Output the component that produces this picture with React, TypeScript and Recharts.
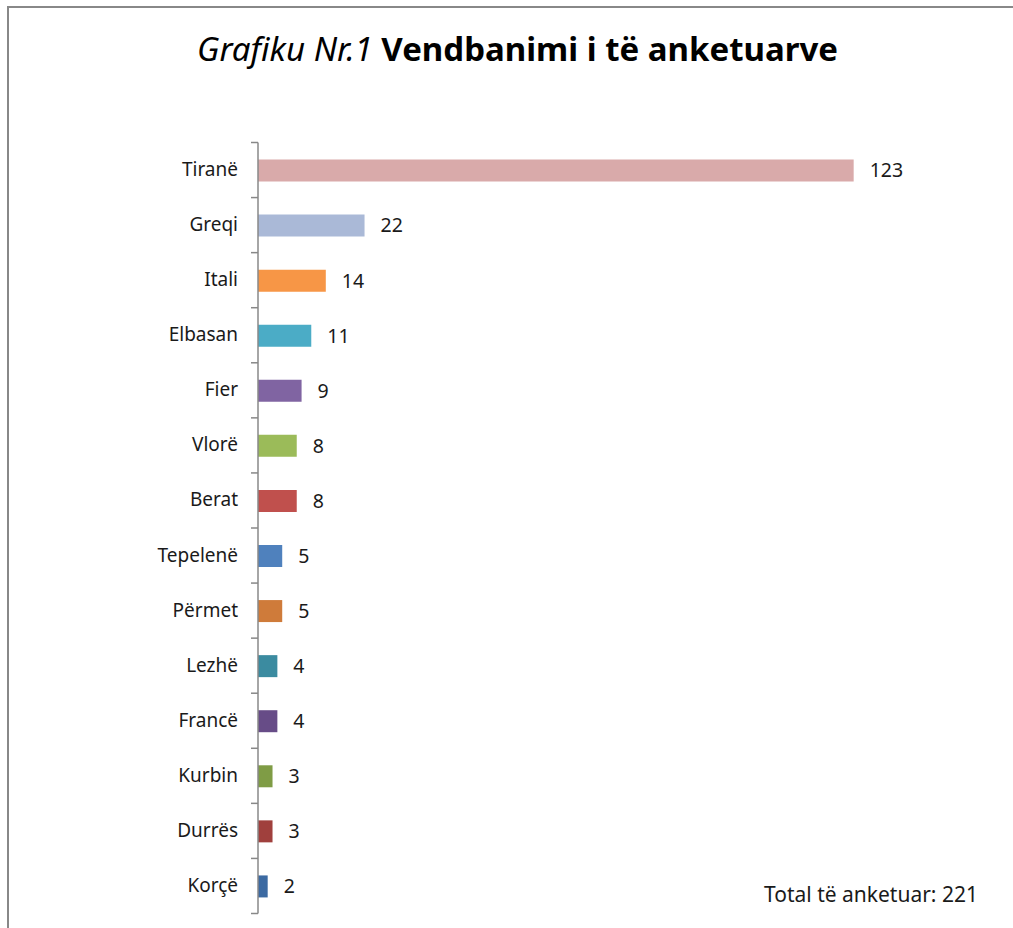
import { BarChart, Bar, XAxis, YAxis, Cell, LabelList } from 'recharts';

const places = [
  'Tiranë', 'Greqi', 'Itali', 'Elbasan', 'Fier', 'Vlorë', 'Berat',
  'Tepelenë', 'Përmet', 'Lezhë', 'Francë', 'Kurbin', 'Durrës', 'Korçë',
];
const counts = [123, 22, 14, 11, 9, 8, 8, 5, 5, 4, 4, 3, 3, 2];
const total = 221;

const barColors = [
  '#d9aaaa', '#aab9d7', '#f79646', '#4bacc6', '#8064a2', '#9bbb59', '#c0504d',
  '#4f81bd', '#cf7b3a', '#3b8ba0', '#674c87', '#7f9c45', '#a0403d', '#3c6aa2',
];

const FONT = '"Noto Sans", "Open Sans", sans-serif';
const BAND = 771 / places.length;

function PlaceTick(props: any) {
  const { x, y, payload, index } = props;
  return (
    <g>
      <line x1={x - 7} x2={x} y1={y - BAND / 2} y2={y - BAND / 2} stroke="#888" strokeWidth={1.5} />
      {index === places.length - 1 && (
        <line x1={x - 7} x2={x} y1={y + BAND / 2} y2={y + BAND / 2} stroke="#888" strokeWidth={1.5} />
      )}
      <text x={x - 20} y={y} dy={6} textAnchor="end" fontSize={19} fill="#1a1a1a" fontFamily={FONT}>
        {payload.value}
      </text>
    </g>
  );
}

export default function App() {
  const data = places.map((place, i) => ({ place, count: counts[i] }));

  return (
    <div style={{ position: 'absolute', left: 0, top: 0, width: 1013, height: 928, overflow: 'hidden', background: '#fff' }}>
      {/* chart frame, cut off at right and bottom */}
      <div style={{ position: 'absolute', left: 7, top: 6, width: 1020, height: 940, border: '2px solid #888', boxSizing: 'border-box' }} />

      <div
        style={{
          position: 'absolute', left: 0, top: 26, width: 1035, textAlign: 'center',
          fontFamily: FONT, fontSize: 33, color: '#000', whiteSpace: 'nowrap',
        }}
      >
        <span style={{ fontStyle: 'italic' }}>Grafiku Nr.1 </span>
        <span style={{ fontWeight: 'bold' }}>Vendbanimi i të anketuarve</span>
      </div>

      <div style={{ position: 'absolute', left: 0, top: 0 }}>
        <BarChart
          width={1013}
          height={928}
          data={data}
          layout="vertical"
          margin={{ top: 142.5, right: 77, bottom: 14.5, left: 0 }}
          barCategoryGap={0}
        >
          <XAxis type="number" domain={[0, 140]} hide />
          <YAxis
            type="category"
            dataKey="place"
            width={258}
            axisLine={{ stroke: '#888', strokeWidth: 1.5 }}
            tickLine={false}
            tickSize={0}
            tickMargin={0}
            interval={0}
            tick={<PlaceTick />}
          />
          <Bar dataKey="count" barSize={22} isAnimationActive={false}>
            {data.map((d, i) => (
              <Cell key={d.place} fill={barColors[i]} />
            ))}
            <LabelList
              dataKey="count"
              position="right"
              offset={16}
              fontSize={19.5}
              fill="#1a1a1a"
              fontFamily={FONT}
            />
          </Bar>
        </BarChart>
      </div>

      <div
        style={{
          position: 'absolute', left: 764, top: 880, fontFamily: FONT, fontSize: 21,
          color: '#1a1a1a', whiteSpace: 'nowrap',
        }}
      >
        Total të anketuar: {total}
      </div>
    </div>
  );
}
